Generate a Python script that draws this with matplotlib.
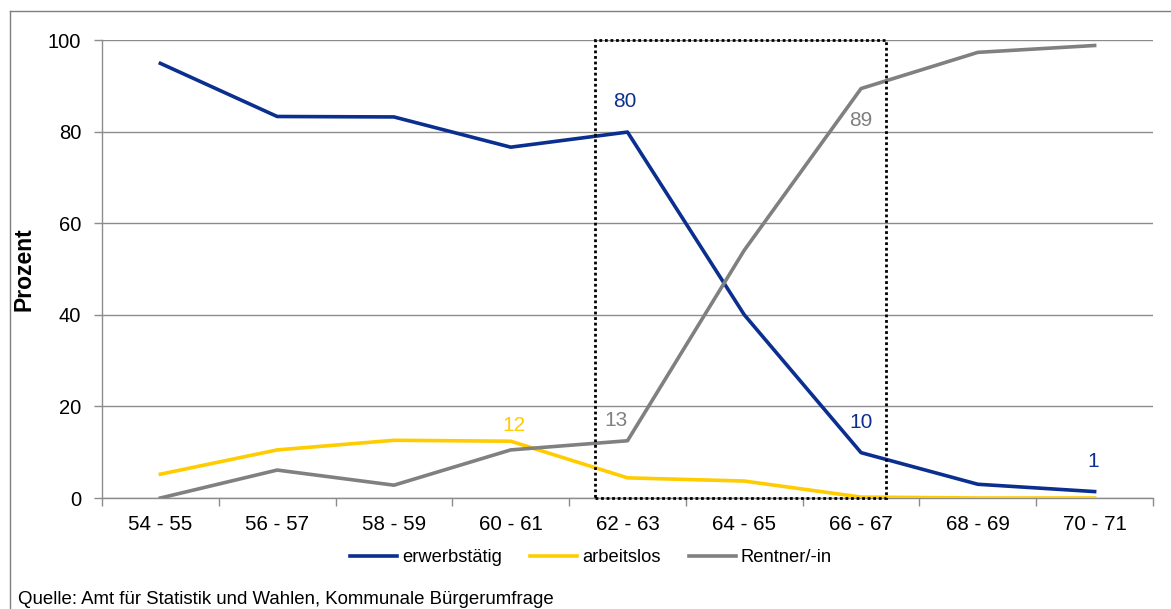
import matplotlib
matplotlib.use("Agg")
import matplotlib.pyplot as plt
from matplotlib.patches import Rectangle
from matplotlib.lines import Line2D

plt.rcParams['font.family'] = ['Liberation Sans', 'DejaVu Sans']

# data
age_groups = ['54 - 55', '56 - 57', '58 - 59', '60 - 61', '62 - 63',
              '64 - 65', '66 - 67', '68 - 69', '70 - 71']
erwerbstaetig = [94.9, 83.3, 83.2, 76.6, 79.9, 40.0, 9.9, 3.0, 1.4]
arbeitslos = [5.2, 10.5, 12.6, 12.4, 4.4, 3.7, 0.2, 0.0, 0.0]
rentner = [0.0, 6.1, 2.8, 10.5, 12.5, 54.1, 89.4, 97.3, 98.8]

# data labels: (series, index, text)
labels = [('erw', 4, '80'), ('erw', 6, '10'), ('erw', 8, '1'),
          ('arb', 3, '12'), ('ren', 4, '13'), ('ren', 6, '89')]

BLUE = '#0b2f8f'
YELLOW = '#ffcc00'
GREY = '#808080'
AXGREY = '#8c8c8c'

W, H = 1171, 609
fig = plt.figure(figsize=(W / 100, H / 100), dpi=100)
ax = fig.add_axes([102 / W, 1 - 498 / H, (1153 - 102) / W, (498 - 40) / H])

x = list(range(len(age_groups)))
ax.plot(x, erwerbstaetig, color=BLUE, lw=2.6, label='erwerbstätig', zorder=3)
ax.plot(x, arbeitslos, color=YELLOW, lw=2.6, label='arbeitslos', zorder=3)
ax.plot(x, rentner, color=GREY, lw=2.6, label='Rentner/-in', zorder=3)

ax.set_xlim(-0.5, len(age_groups) - 0.5)
ax.set_ylim(0, 100)
ax.set_yticks([0, 20, 40, 60, 80, 100])
ax.set_xticks(x)
ax.set_xticklabels(age_groups)
ax.set_xticks([i - 0.5 for i in range(len(age_groups) + 1)], minor=True)
ax.tick_params(axis='x', which='major', length=0, pad=12, labelsize=14.8)
ax.tick_params(axis='x', which='minor', length=6, color=AXGREY, width=1)
ax.tick_params(axis='y', length=6, color=AXGREY, width=1, labelsize=14.5, pad=9)

ax.grid(axis='y', color=AXGREY, lw=1)
ax.set_axisbelow(True)
for s in ['top', 'right']:
    ax.spines[s].set_visible(False)
for s in ['left', 'bottom']:
    ax.spines[s].set_color(AXGREY)
    ax.spines[s].set_linewidth(1)

ax.set_ylabel('Prozent', fontsize=16.5, fontweight='bold')
ax.yaxis.set_label_coords((36 - 102) / (1153 - 102), 0.5)

# value labels
series = {'erw': (erwerbstaetig, BLUE), 'arb': (arbeitslos, YELLOW),
          'ren': (rentner, GREY)}
offsets = {('erw', 4): (-0.02, 6.6), ('erw', 6): (0.0, 6.5), ('erw', 8): (-0.01, 6.5),
           ('arb', 3): (0.03, 3.5), ('ren', 4): (-0.1, 4.5), ('ren', 6): (0.0, -6.9)}
for key, i, txt in labels:
    vals, col = series[key]
    dx, dy = offsets[(key, i)]
    ax.text(i + dx, vals[i] + dy, txt, color=col, fontsize=15,
            ha='center', va='center', zorder=4)

# dotted highlight box
ax.add_patch(Rectangle((3.72, 0), 6.21 - 3.72, 100, fill=False,
                       edgecolor='black', lw=2, linestyle=(0, (1, 1)),
                       zorder=5, clip_on=False))

fig.legend(loc='center', bbox_to_anchor=(591 / W, 1 - 558 / H), ncol=3,
           frameon=False, fontsize=13.2, handlelength=2.55, columnspacing=1.55,
           handletextpad=0.27)

fig.text(18 / W, 1 - 599 / H,
         'Quelle: Amt für Statistik und Wahlen, Kommunale Bürgerumfrage',
         fontsize=13.4, ha='left', va='center')

# outer frame (top and left edges only visible)
fig.add_artist(Line2D([10 / W, 1], [1 - 10.5 / H, 1 - 10.5 / H],
                      transform=fig.transFigure, color='#7f7f7f', lw=1))
fig.add_artist(Line2D([10 / W, 10 / W], [0, 1 - 10.5 / H],
                      transform=fig.transFigure, color='#7f7f7f', lw=1))

fig.savefig('out.png', dpi=100)
